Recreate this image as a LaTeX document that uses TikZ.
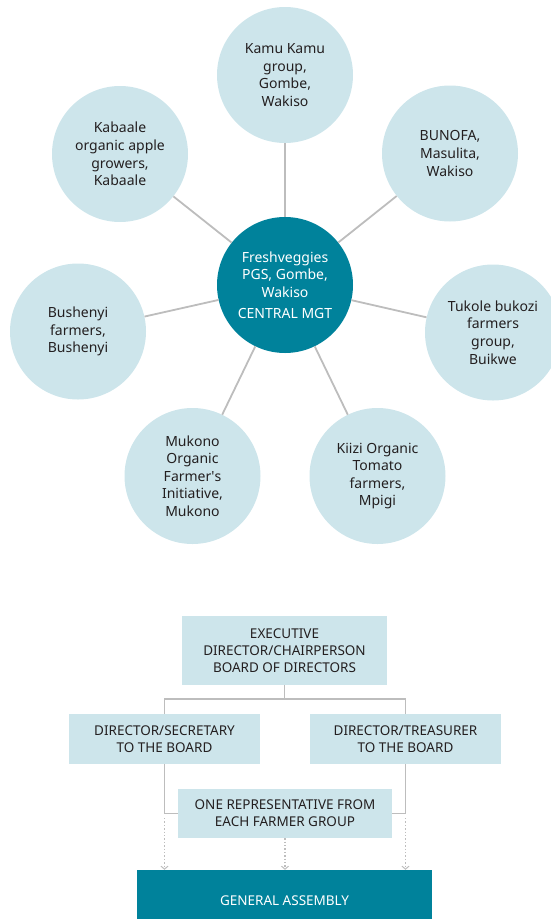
\documentclass[tikz,border=0pt]{standalone}
\usepackage{fontspec}
\setmainfont{Noto Sans}
\newfontfamily\plainapos{Noto Sans}
\usetikzlibrary{arrows.meta}
\definecolor{lightc}{HTML}{CDE5EB}
\definecolor{darkc}{HTML}{00829B}
\definecolor{linec}{HTML}{BDBDBD}
\definecolor{txtc}{HTML}{231F20}
\begin{document}
\begin{tikzpicture}[x=1pt,y=-1pt,
  sat/.style={circle, fill=lightc, minimum size=136pt, inner sep=0pt, align=center, text=txtc, font=\fontsize{14}{17.6}\selectfont},
  hub/.style={circle, fill=darkc, minimum size=136pt, inner sep=0pt, align=center, text=white, font=\fontsize{14}{17.6}\selectfont},
  spoke/.style={draw=linec, line width=1.8pt},
  orgbox/.style={fill=lightc, inner sep=0pt, align=center, text=txtc, font=\fontsize{13.5}{17}\selectfont},
  conn/.style={draw=linec, line width=1.8pt},
  dotconn/.style={draw=linec, line width=1.4pt, dotted, -{Straight Barb[length=3pt,width=7pt,line width=1pt]}},
]
\useasboundingbox (0,0) rectangle (550,919);

% ring of groups
\node[hub] (hub) at (285,285) {Freshveggies\\PGS, Gombe,\\Wakiso\\[3.5pt]CENTRAL MGT};
\node[sat] (kamu) at (285,75) {Kamu Kamu\\group,\\Gombe,\\Wakiso};
\node[sat] (kab) at (120,154) {Kabaale\\organic apple\\growers,\\Kabaale};
\node[sat] (bun) at (450,153.5) {BUNOFA,\\Masulita,\\Wakiso};
\node[sat] (bush) at (78,331.5) {Bushenyi\\farmers,\\Bushenyi};
\node[sat] (tuk) at (493,332.5) {Tukole bukozi\\farmers\\group,\\Buikwe};
\node[sat] (muk) at (192.5,476) {Mukono\\Organic\\Farmer{\plainapos '}s\\Initiative,\\Mukono};
\node[sat] (kiizi) at (377.5,476) {Kiizi Organic\\Tomato\\farmers,\\Mpigi};

\foreach \s in {kamu,kab,bun,bush,tuk,muk,kiizi}
  \draw[spoke] (hub) -- (\s);

% organisation chart
\node[orgbox, minimum width=205pt, minimum height=69pt] (exec) at (284.5,650.5) {EXECUTIVE\\DIRECTOR/CHAIRPERSON\\BOARD OF DIRECTORS};
\node[orgbox, minimum width=191pt, minimum height=50pt] (sec) at (164.5,739) {DIRECTOR/SECRETARY\\TO THE BOARD};
\node[orgbox, minimum width=191pt, minimum height=50pt] (tre) at (405.5,739) {DIRECTOR/TREASURER\\TO THE BOARD};
\node[orgbox, minimum width=214pt, minimum height=49pt] (rep) at (285,813.5) {ONE REPRESENTATIVE FROM\\EACH FARMER GROUP};
\node[fill=darkc, minimum width=295pt, minimum height=62pt, inner sep=0pt, text=white, font=\fontsize{13.5}{17}\selectfont] (ga) at (284.5,901) {GENERAL ASSEMBLY};

\coordinate (bar) at (284.5,699);
\draw[conn] (exec.south) -- (bar);
\draw[conn] (sec.north) |- (bar) -| (tre.north);
\draw[conn] (sec.south) |- (rep.west);
\draw[conn] (tre.south) |- (rep.east);

\coordinate (dl) at (164.5,818);
\coordinate (dr) at (405.5,818);
\draw[dotconn] (dl) -- (dl |- ga.north);
\draw[dotconn] (rep.south) -- (rep.south |- ga.north);
\draw[dotconn] (dr) -- (dr |- ga.north);
\end{tikzpicture}
\end{document}
